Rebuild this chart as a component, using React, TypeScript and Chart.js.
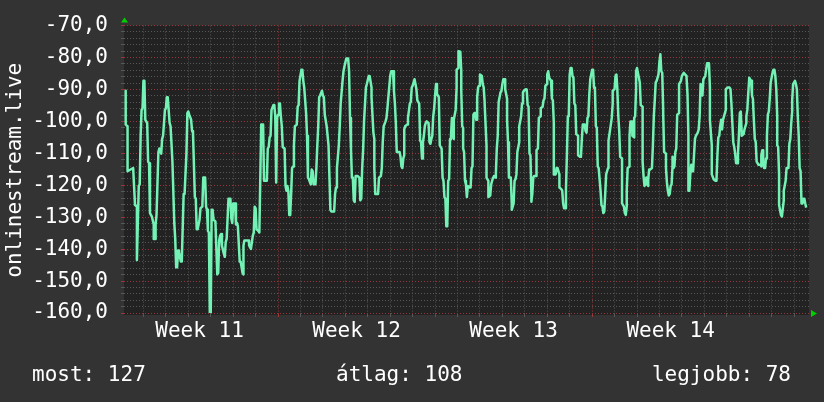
import React, { useEffect, useRef } from 'react';
import { Chart, registerables } from 'chart.js';

Chart.register(...registerables);

// ---- data (hours since Monday 00:00 of week 11, signal value) ----
const readings: [number, number][] = [
  [5, -90.4], [5, -101.0], [7, -101.5], [7, -115.6], [13, -114.6], [15, -126.2], [17, -126.7], [17, -143.4], [19, -120.2], [20, -119.7],
  [21, -104.5], [22, -96.4], [23, -95.9], [24, -87.3], [25, -87.3], [26, -99.5], [28, -100.5], [29, -112.6], [30, -113.1], [31, -128.7],
  [33, -129.8], [35, -132.3], [35, -136.8], [37, -136.8], [37, -132.3], [38, -129.3], [40, -109.6], [41, -108.5], [43, -110.1], [44, -105.5],
  [45, -104.5], [47, -96.4], [48, -95.9], [49, -92.4], [50, -92.4], [52, -100.5], [53, -101.5], [54, -107.0], [55, -112.6], [57, -131.8],
  [58, -136.8], [59, -145.7], [60, -145.7], [61, -140.4], [62, -140.9], [64, -143.9], [65, -143.9], [67, -122.7], [68, -122.7], [70, -110.1],
  [71, -97.4], [72, -96.9], [73, -97.9], [75, -99.5], [76, -103.0], [77, -103.5], [79, -123.7], [80, -124.2], [81, -133.8], [82, -133.8],
  [84, -130.8], [85, -127.2], [87, -126.7], [88, -117.6], [90, -117.6], [91, -126.7], [92, -127.7], [93, -134.3], [94, -134.8], [95, -160.0],
  [96, -160.0], [97, -127.7], [98, -127.7], [99, -130.8], [101, -131.3], [102, -139.9], [103, -147.9], [104, -147.4], [105, -137.3], [106, -135.8],
  [107, -135.3], [108, -138.9], [110, -141.4], [111, -142.4], [112, -137.8], [113, -136.8], [115, -124.2], [117, -124.2], [118, -130.3], [119, -131.8],
  [120, -125.7], [122, -125.7], [123, -132.3], [124, -131.8], [125, -132.8], [127, -143.9], [128, -143.9], [130, -147.4], [131, -147.9], [131, -138.9],
  [132, -137.3], [134, -137.3], [137, -137.3], [137, -138.9], [139, -139.9], [141, -135.8], [142, -134.8], [143, -126.7], [144, -127.2], [145, -133.8],
  [147, -134.3], [148, -134.8],
  [150, -101.0], [152, -101.0], [153, -118.6], [156, -118.6], [157, -108.5], [158, -108.0], [159, -105.0], [160, -104.5], [161, -96.4], [163, -94.9],
  [164, -94.9], [165, -98.4], [166, -119.1], [167, -98.9], [168, -97.9], [169, -94.4], [170, -94.4], [171, -98.4], [172, -101.5], [173, -108.0],
  [175, -108.5], [176, -120.2], [177, -121.7], [178, -120.2], [179, -121.7], [180, -129.3], [181, -129.3], [182, -122.7], [183, -114.6], [184, -114.1],
  [185, -107.5], [186, -101.5], [188, -101.0], [189, -95.4], [190, -94.9], [191, -87.3], [193, -83.8], [194, -83.8], [195, -87.3], [196, -89.4],
  [198, -97.4], [199, -104.5], [200, -117.6], [201, -118.1], [203, -119.7], [204, -115.1], [205, -115.6], [206, -119.7], [208, -119.7], [209, -114.6],
  [210, -107.5], [211, -101.5], [212, -92.4], [213, -91.9], [215, -90.4], [216, -91.9], [217, -92.4], [218, -97.9], [220, -101.5], [222, -107.5],
  [223, -117.6], [224, -127.7], [225, -128.2], [228, -128.2], [229, -122.7], [230, -120.7], [231, -114.6], [233, -107.5], [234, -101.5], [235, -94.4],
  [237, -87.3], [238, -84.3], [239, -82.8], [241, -80.3], [243, -80.3], [244, -84.3], [245, -98.9], [246, -108.5], [247, -117.6], [248, -117.6],
  [249, -124.7], [250, -125.2], [251, -117.1], [253, -117.1], [255, -117.6], [256, -124.7], [257, -124.2], [258, -114.6], [259, -109.0], [260, -100.0],
  [262, -89.4], [263, -88.3], [265, -85.8], [266, -85.8], [268, -89.4], [268, -92.4], [270, -103.5], [271, -105.5], [271, -114.6], [272, -122.7],
  [275, -122.7], [276, -117.6], [278, -117.1], [279, -114.6], [280, -106.5], [281, -101.5], [283, -100.0], [284, -98.9], [285, -95.9], [286, -92.4],
  [288, -85.8], [289, -84.3], [291, -84.3],
  [292, -90.4], [293, -94.4], [294, -100.5], [295, -109.6], [298, -109.6], [299, -111.1], [300, -114.1], [301, -114.6], [302, -111.6], [303, -110.6],
  [303, -102.5], [304, -101.5], [306, -101.0], [307, -98.9], [309, -94.4], [310, -93.9], [311, -89.4], [312, -88.8], [314, -86.8], [315, -88.3],
  [316, -89.9], [317, -93.4], [319, -94.4], [320, -106.0], [321, -106.5], [322, -111.6], [323, -106.5], [324, -104.5], [325, -101.5], [326, -100.5],
  [327, -100.0], [329, -100.5], [330, -106.5], [331, -107.0], [332, -105.5], [333, -104.5], [334, -98.4], [335, -95.9], [336, -91.9], [337, -88.3],
  [338, -91.4], [340, -92.4], [341, -107.5], [343, -108.5], [344, -117.6], [345, -118.6], [346, -123.7], [347, -124.2], [348, -132.8], [349, -132.8],
  [350, -118.6], [351, -118.1], [352, -105.5], [353, -104.5], [354, -98.9], [355, -104.5], [356, -105.5], [356, -99.5], [358, -96.4], [359, -89.4],
  [359, -83.8], [361, -83.3], [361, -78.0], [363, -78.2], [364, -84.3], [364, -90.4], [365, -101.5], [366, -102.0], [366, -108.5], [367, -109.6],
  [368, -118.6], [369, -119.7], [370, -123.7], [371, -120.2], [373, -120.7], [374, -120.7], [375, -114.6], [376, -114.1], [377, -97.9], [378, -97.4],
  [379, -97.4], [380, -99.5], [381, -99.5], [381, -92.4], [382, -89.4], [383, -88.8], [384, -85.3], [386, -85.8], [387, -88.3], [388, -89.4],
  [389, -93.9], [389, -94.4], [391, -107.5], [391, -117.6], [393, -118.6], [393, -123.7], [395, -123.2], [396, -119.7], [397, -118.6], [398, -117.6],
  [399, -117.1], [401, -117.6], [401, -116.6], [402, -108.5], [403, -104.5], [404, -93.9], [406, -90.9], [407, -90.4], [408, -88.3], [409, -86.8],
  [411, -86.8], [411, -89.9], [413, -92.9], [413, -99.5], [414, -106.5], [415, -117.6], [417, -117.6], [418, -125.7], [418, -127.7], [420, -125.7],
  [421, -118.6], [422, -118.1], [423, -116.6], [424, -109.6], [426, -106.5], [426, -101.5], [427, -100.0], [428, -98.4], [429, -94.4], [430, -90.9],
  [431, -90.4], [433, -89.9], [434, -90.0],
  [435, -94.9], [436, -95.4], [437, -110.1], [438, -110.6], [439, -122.7], [439, -125.2], [440, -122.7], [441, -117.6], [442, -117.1], [444, -117.1],
  [444, -114.6], [445, -109.0], [446, -108.5], [447, -98.9], [449, -98.4], [449, -95.9], [451, -95.4], [452, -93.4], [453, -92.9], [454, -88.8],
  [456, -88.3], [456, -85.3], [457, -84.3], [458, -86.3], [460, -87.3], [461, -92.9], [462, -93.4], [463, -100.5], [463, -116.6], [465, -116.6],
  [466, -114.6], [467, -114.6], [469, -116.6], [469, -120.7], [471, -121.2], [472, -121.7], [473, -125.7], [474, -127.2], [475, -127.2], [476, -121.2],
  [477, -110.6], [478, -98.4], [479, -98.4], [480, -85.3], [481, -83.3], [482, -83.3], [483, -85.8], [484, -86.3], [485, -94.4], [486, -94.9],
  [487, -104.0], [489, -104.5], [489, -110.6], [491, -111.1], [492, -111.1], [493, -105.5], [494, -101.0], [495, -101.0], [496, -101.0], [497, -103.0],
  [498, -103.5], [499, -98.9], [500, -98.4], [501, -91.4], [502, -86.8], [504, -83.8], [505, -83.8], [506, -89.4], [507, -89.9], [508, -101.5],
  [509, -102.0], [510, -114.1], [511, -114.6], [513, -121.7], [514, -126.2], [515, -126.7], [516, -128.7], [517, -128.2], [518, -122.7], [519, -116.6],
  [521, -114.6], [521, -107.0], [522, -106.0], [524, -101.0], [525, -98.9], [526, -94.4], [526, -90.4], [528, -89.9], [529, -85.8], [530, -85.3],
  [531, -89.9], [531, -90.4], [532, -98.4], [533, -103.0], [534, -111.1], [536, -111.6], [536, -125.7], [538, -126.7], [539, -128.7], [540, -129.3],
  [541, -126.7], [541, -121.7], [542, -114.6], [544, -114.1], [544, -104.5], [545, -100.0], [547, -100.0], [547, -104.5], [549, -105.0], [549, -98.9],
  [550, -98.4], [551, -89.9], [551, -84.3], [552, -83.3], [554, -86.3], [555, -87.8], [556, -94.9], [558, -95.4], [558, -112.6], [559, -117.1],
  [560, -120.2], [561, -119.7], [562, -117.6], [563, -119.7], [564, -120.2], [564, -118.1], [565, -115.1], [566, -115.1], [568, -114.6], [569, -107.5],
  [570, -98.4], [571, -93.4], [572, -87.8], [573, -87.3], [575, -85.3], [576, -81.3], [577, -79.0],
  [578, -84.3], [579, -84.8], [580, -96.4], [580, -97.4], [581, -109.6], [583, -110.1], [583, -114.6], [584, -119.1], [585, -121.7], [586, -123.2],
  [587, -122.7], [588, -120.2], [589, -119.7], [590, -114.1], [590, -111.1], [591, -114.6], [592, -114.1], [593, -109.6], [594, -108.5], [595, -97.9],
  [597, -97.4], [597, -88.3], [599, -87.3], [600, -85.8], [602, -84.8], [605, -85.8], [605, -86.3], [606, -91.4], [607, -104.5], [607, -121.7],
  [608, -121.7], [609, -116.6], [610, -113.6], [611, -115.6], [612, -113.6], [612, -115.6], [614, -105.5], [615, -104.5], [617, -103.5], [618, -102.5],
  [619, -98.4], [620, -88.3], [622, -91.9], [623, -86.8], [625, -85.8], [626, -83.8], [627, -81.8], [629, -81.8], [630, -89.4], [630, -99.5],
  [632, -107.5], [632, -116.6], [634, -118.1], [636, -118.6], [637, -118.6], [638, -110.6], [639, -105.0], [640, -104.5], [641, -101.5], [642, -99.5],
  [643, -102.5], [644, -99.5], [647, -96.4], [647, -89.9], [649, -89.4], [651, -89.4], [652, -89.9], [653, -94.4], [654, -100.5], [655, -106.5],
  [656, -108.0], [657, -110.1], [658, -113.1], [659, -113.1], [660, -110.1], [661, -104.5], [662, -97.4], [663, -96.9], [664, -103.5], [664, -104.5],
  [666, -104.0], [667, -102.5], [669, -100.5], [669, -98.4], [670, -96.4], [671, -91.4], [672, -86.8], [672, -86.3], [674, -87.3], [675, -91.9],
  [676, -92.9], [677, -99.5], [678, -105.5], [679, -106.5], [680, -112.6], [682, -113.6], [684, -113.6], [685, -114.1], [685, -110.6], [686, -109.0],
  [687, -109.0], [687, -112.6], [688, -114.6], [689, -114.6], [690, -111.6], [691, -110.6], [691, -104.5], [692, -97.9], [693, -96.9], [694, -92.9],
  [695, -87.8], [697, -84.8], [698, -83.8], [699, -83.8], [700, -85.8], [701, -89.9], [702, -98.4], [702, -107.5], [703, -108.0], [704, -116.6],
  [704, -126.2], [706, -129.3], [707, -129.8], [709, -124.7], [709, -121.7], [711, -118.6], [712, -114.6], [714, -114.6], [715, -107.0], [716, -105.5],
  [717, -100.5], [718, -96.9], [718, -93.4], [719, -88.3], [721, -87.3], [722, -88.3], [723, -89.9], [724, -98.4], [725, -104.5], [726, -114.6],
  [727, -115.6], [728, -125.7], [729, -125.7], [730, -124.2], [731, -124.2], [732, -125.7], [733, -127.0],
];

const weekLabels = ['Week 11', 'Week 12', 'Week 13', 'Week 14'];
const axisTitle = 'onlinestream.live';
const summaryLabels = ['most', 'átlag', 'legjobb'];
const summaryValues = [127, 108, 78];

// ---- scale settings ----
const X_MIN = 3.2;
const X_MAX = 736;
const Y_MIN = -160;
const Y_MAX = -70;
const HOURS_PER_DAY = 24;
const HOURS_PER_WEEK = 168;

const FONT = '"DejaVu Sans Mono", monospace';
const FONT_SIZE = 21;
const BG = '#333333';
const PLOT_BG = '#222222';
const MINOR = '#575757';
const MAJOR = '#963838';
const LINE = '#74f2b6';
const ARROW = '#00d000';

const near = (a: number, b: number) => Math.abs(a - b) < 1e-6;

const decor = {
  id: 'decor',
  beforeDraw(chart: any) {
    const { ctx, chartArea: a, width, height } = chart;
    ctx.save();
    ctx.fillStyle = BG;
    ctx.fillRect(0, 0, width, height);
    ctx.fillStyle = PLOT_BG;
    ctx.fillRect(a.left, a.top, a.right - a.left, a.bottom - a.top + 2);
    ctx.restore();
  },
  afterDraw(chart: any) {
    const { ctx, chartArea: a, width } = chart;
    ctx.save();
    // arrows
    ctx.fillStyle = ARROW;
    ctx.beginPath();
    ctx.moveTo(a.left - 3, a.top - 3);
    ctx.lineTo(a.left + 4, a.top - 3);
    ctx.lineTo(a.left + 0.5, a.top - 8);
    ctx.closePath();
    ctx.fill();
    ctx.beginPath();
    ctx.moveTo(a.right + 2, a.bottom - 3);
    ctx.lineTo(a.right + 2, a.bottom + 4);
    ctx.lineTo(a.right + 8, a.bottom + 0.5);
    ctx.closePath();
    ctx.fill();
    // axis title
    ctx.fillStyle = '#ffffff';
    ctx.font = `${FONT_SIZE}px ${FONT}`;
    ctx.translate(21, (a.top + a.bottom) / 2 + 1);
    ctx.rotate(-Math.PI / 2);
    ctx.textAlign = 'center';
    ctx.textBaseline = 'alphabetic';
    ctx.fillText(axisTitle, 0, 0);
    ctx.restore();
    // summary footer
    ctx.save();
    ctx.fillStyle = '#ffffff';
    ctx.font = `${FONT_SIZE}px ${FONT}`;
    ctx.textBaseline = 'alphabetic';
    const texts = summaryLabels.map((l, i) => `${l}: ${summaryValues[i]}`);
    ctx.textAlign = 'left';
    ctx.fillText(texts[0], 32, 381);
    ctx.fillText(texts[1], 336, 381);
    ctx.textAlign = 'right';
    ctx.fillText(texts[2], width - 33, 381);
    ctx.restore();
  },
};

export default function App() {
  const ref = useRef<HTMLCanvasElement | null>(null);

  useEffect(() => {
    document.body.style.margin = '0';
    const canvas = ref.current;
    if (!canvas) return;

    const xTicks: { value: number }[] = [];
    for (let h = HOURS_PER_DAY / 2; h < X_MAX; h += HOURS_PER_DAY / 2) xTicks.push({ value: h });
    const yTicks: { value: number }[] = [];
    for (let v = Y_MIN; v <= Y_MAX; v += 2) yTicks.push({ value: v });

    const chart = new Chart(canvas, {
      type: 'line',
      data: {
        datasets: [
          {
            data: readings.map(([h, v]) => ({ x: h, y: v })),
            borderColor: LINE,
            borderWidth: 2.5,
            pointRadius: 0,
            tension: 0,
            fill: false,
            borderJoinStyle: 'round',
          },
        ],
      },
      options: {
        animation: false,
        responsive: false,
        maintainAspectRatio: false,
        layout: { padding: { left: 0, top: 16, right: 15, bottom: 0 } },
        plugins: { legend: { display: false }, tooltip: { enabled: false } },
        scales: {
          x: {
            type: 'linear',
            min: X_MIN,
            max: X_MAX,
            afterBuildTicks: (s: any) => {
              s.ticks = xTicks.map((t) => ({ ...t }));
            },
            afterFit: (s: any) => {
              s.height = 89;
            },
            grid: {
              color: (c: any) => {
                const v = c.tick ? c.tick.value : 0;
                if (near(v % HOURS_PER_WEEK, 0)) return MAJOR;
                if (near(v % HOURS_PER_DAY, 0)) return MINOR;
                return 'rgba(0,0,0,0)';
              },
              lineWidth: 1,
              drawTicks: true,
              tickLength: 4,
            },
            border: { display: false, dash: [1, 2] },
            ticks: {
              autoSkip: false,
              maxRotation: 0,
              minRotation: 0,
              color: '#ffffff',
              font: { family: FONT, size: FONT_SIZE },
              padding: 2,
              callback: (value: any) => {
                const v = Number(value);
                const k = (v - HOURS_PER_WEEK / 2) / HOURS_PER_WEEK;
                if (near(k, Math.round(k)) && weekLabels[Math.round(k)]) return weekLabels[Math.round(k)];
                return '';
              },
            },
          },
          y: {
            type: 'linear',
            min: Y_MIN,
            max: Y_MAX,
            afterBuildTicks: (s: any) => {
              s.ticks = yTicks.map((t) => ({ ...t }));
            },
            afterFit: (s: any) => {
              s.width = 124;
            },
            grid: {
              color: (c: any) => {
                const v = c.tick ? c.tick.value : 0;
                return near(v % 10, 0) ? MAJOR : MINOR;
              },
              lineWidth: 1,
              drawTicks: true,
              tickLength: 3,
            },
            border: { display: false, dash: [1, 2] },
            ticks: {
              autoSkip: false,
              color: '#ffffff',
              font: { family: FONT, size: FONT_SIZE },
              padding: 13,
              callback: (value: any) => {
                const v = Number(value);
                return near(v % 10, 0) ? v.toFixed(1).replace('.', ',') : '';
              },
            },
          },
        },
      } as any,
      plugins: [decor],
    });
    return () => chart.destroy();
  }, []);

  return (
    <div style={{ width: 824, height: 402, background: BG }}>
      <canvas ref={ref} width={824} height={402} style={{ display: 'block' }} />
    </div>
  );
}
